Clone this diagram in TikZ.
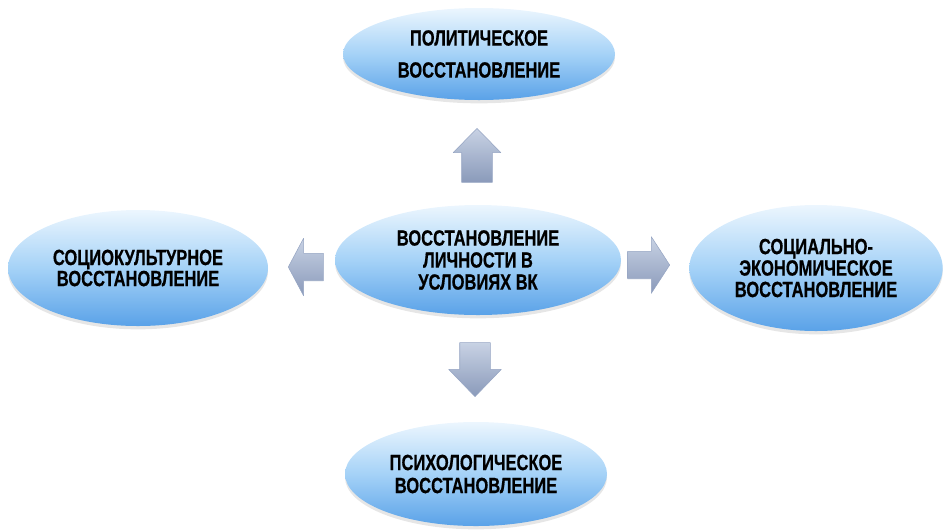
\documentclass[tikz,border=0pt]{standalone}
\usepackage{fontspec}
\newfontfamily\narrowfont{Liberation Sans}[FakeStretch=0.75,FakeBold=0.6]
\usetikzlibrary{shapes.geometric,shapes.arrows,shadows}
\definecolor{elltop}{RGB}{236,246,254}
\definecolor{ellmid}{RGB}{165,210,247}
\definecolor{ellbot}{RGB}{90,162,232}
\definecolor{armtop}{RGB}{200,210,228}
\definecolor{armbot}{RGB}{138,154,186}
\definecolor{armedge}{RGB}{150,165,195}
\tikzset{
	goal/.style={ellipse,inner sep=0pt,align=center,top color=elltop,bottom color=ellbot,middle color=ellmid,
		drop shadow={shadow xshift=0pt,shadow yshift=-2.5pt,opacity=0.2},
		font=\narrowfont\bfseries\fontsize{16.5}{#1}\selectfont},
	blockarrow/.style={single arrow,inner sep=0pt,anchor=tip,top color=armtop,bottom color=armbot,draw=armedge,line width=0.4pt}
}
\begin{document}
\begin{tikzpicture}[line cap=round,line join=round,x=0.75pt,y=-0.75pt]
		\useasboundingbox (0,0) rectangle (944,529);
		% ellipses
		\node[goal=16.5pt,minimum width=214.5pt,minimum height=82.5pt] (core) at (478,260) {ВОССТАНОВЛЕНИЕ\\ЛИЧНОСТИ В\\УСЛОВИЯХ ВК};
		\node[goal=24pt,minimum width=204pt,minimum height=69pt] (polit) at (479,54) {ПОЛИТИЧЕСКОЕ\\ВОССТАНОВЛЕНИЕ};
		\node[goal=14.25pt,minimum width=195pt,minimum height=87pt] (socio) at (138,268) {СОЦИОКУЛЬТУРНОЕ\\ВОССТАНОВЛЕНИЕ};
		\node[goal=16.1pt,minimum width=190pt,minimum height=94.5pt] (econ) at (816,268) {СОЦИАЛЬНО-\\ЭКОНОМИЧЕСКОЕ\\ВОССТАНОВЛЕНИЕ};
		\node[goal=17.25pt,minimum width=196.5pt,minimum height=78pt] (psych) at (476,474) {ПСИХОЛОГИЧЕСКОЕ\\ВОССТАНОВЛЕНИЕ};
		% arrows
		\node[blockarrow,shape border rotate=90,minimum height=40.5pt,inner xsep=11.25pt,
			single arrow head extend=6.4pt,single arrow tip angle=89] (toPolit) at (477,128) {};
		\node[blockarrow,shape border rotate=180,minimum height=26.25pt,inner ysep=10.1pt,
			single arrow head extend=11.25pt,single arrow tip angle=124] (toSocio) at (288,267) {};
		\node[blockarrow,shape border rotate=0,minimum height=31.5pt,inner ysep=10.1pt,
			single arrow head extend=10.9pt,single arrow tip angle=114] (toEcon) at (670,265) {};
		\node[blockarrow,shape border rotate=270,minimum height=40.5pt,inner xsep=11.25pt,
			single arrow head extend=8.25pt,single arrow tip angle=88] (toPsych) at (475,397) {};
	\end{tikzpicture}
\end{document}
